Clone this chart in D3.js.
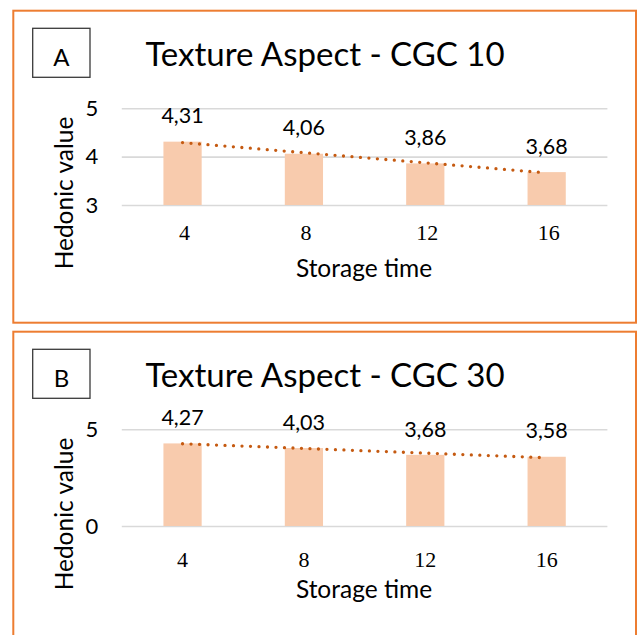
<!DOCTYPE html>
<html>
<head>
<meta charset="utf-8">
<script src="https://cdn.jsdelivr.net/npm/d3@7"></script>
<style>
  html, body { margin: 0; padding: 0; background: #ffffff; }
  svg { display: block; }
</style>
</head>
<body>
<svg id="chart" width="642" height="635"></svg>
<script>
// Storage time categories (x axis)
const categories = ["4", "8", "12", "16"];

// Hedonic texture scores per storage time
const valuesCGC10 = [4.31, 4.06, 3.86, 3.68];
const valuesCGC30 = [4.27, 4.03, 3.68, 3.58];

// y axis ticks and domains for each panel
const ticksCGC10 = [3, 4, 5];
const ticksCGC30 = [0, 5];
const domainCGC10 = [3, 5];
const domainCGC30 = [0, 5];

// Panel letters and titles
const panelLetters = ["A", "B"];
const panelTitles = ["Texture Aspect - CGC 10", "Texture Aspect - CGC 30"];

const xAxisTitle = "Storage time";
const yAxisTitle = "Hedonic value";

const panels = [
  { letter: panelLetters[0], title: panelTitles[0], values: valuesCGC10, ticks: ticksCGC10, domain: domainCGC10, offsetY: 0, frameH: 312, catDx: 2, catDy: 0 },
  { letter: panelLetters[1], title: panelTitles[1], values: valuesCGC30, ticks: ticksCGC30, domain: domainCGC30, offsetY: 321, frameH: 340, catDx: 0, catDy: 6 }
];

const sansFont = "Lato, 'Open Sans', sans-serif";
const serifFont = "'Liberation Serif', 'DejaVu Serif', serif";
const colors = {
  frame: "#ED7D31",
  bar: "#F8CBAD",
  trend: "#C55A11",
  grid: "#D9D9D9",
  text: "#000000",
  letterBox: "#3a3a3a"
};

const svg = d3.select("#chart");

// decimal comma, as in the data labels
const locale = d3.formatLocale({ decimal: ",", thousands: ".", grouping: [3], currency: ["", ""] });
const fmt = locale.format(".2f");

const plot = { left: 121.8, right: 607.4, top: 108.3, bottom: 205 };

const x = d3.scaleBand()
  .domain(categories)
  .range([plot.left, plot.right])
  .paddingInner(0.685)
  .paddingOuter(0.343);

panels.forEach(p => {
  const g = svg.append("g").attr("transform", `translate(0,${p.offsetY})`);

  // outer frame
  g.append("rect")
    .attr("x", 13.3).attr("y", 10.7)
    .attr("width", 636 - 13.3).attr("height", p.frameH)
    .attr("fill", "none")
    .attr("stroke", colors.frame)
    .attr("stroke-width", 2);

  // panel letter in a box
  g.append("rect")
    .attr("x", 32.7).attr("y", 28.3)
    .attr("width", 57.3).attr("height", 49)
    .attr("fill", "none")
    .attr("stroke", colors.letterBox)
    .attr("stroke-width", 1.3);
  g.append("text")
    .attr("x", 61.4).attr("y", 66)
    .attr("text-anchor", "middle")
    .attr("font-family", sansFont)
    .attr("font-size", 24)
    .attr("fill", colors.text)
    .text(p.letter);

  // title
  g.append("text")
    .attr("x", 325).attr("y", 66)
    .attr("text-anchor", "middle")
    .attr("font-family", sansFont)
    .attr("font-size", 33)
    .attr("fill", colors.text)
    .text(p.title);

  const y = d3.scaleLinear().domain(p.domain).range([plot.bottom, plot.top]);

  // gridlines + tick labels
  const yAxis = g.append("g")
    .attr("transform", `translate(${plot.left},0)`)
    .call(d3.axisLeft(y)
      .tickValues(p.ticks)
      .tickFormat(d3.format("d"))
      .tickSize(-(plot.right - plot.left))
      .tickPadding(23.5));
  yAxis.select(".domain").remove();
  yAxis.selectAll(".tick line")
    .attr("stroke", colors.grid)
    .attr("stroke-width", 1.6);
  yAxis.selectAll(".tick text")
    .attr("font-family", sansFont)
    .attr("font-size", 22)
    .attr("fill", colors.text);

  // bars
  g.append("g").selectAll("rect")
    .data(p.values)
    .join("rect")
    .attr("x", (d, i) => x(categories[i]))
    .attr("y", d => y(d))
    .attr("width", x.bandwidth())
    .attr("height", d => y(p.domain[0]) - y(d))
    .attr("fill", colors.bar);

  // linear trendline (least squares over category index)
  const n = p.values.length;
  const idx = d3.range(1, n + 1);
  const mx = d3.mean(idx), my = d3.mean(p.values);
  const slope = d3.sum(idx, (k, i) => (k - mx) * (p.values[i] - my)) / d3.sum(idx, k => (k - mx) ** 2);
  const intercept = my - slope * mx;
  const trendPts = [1, n].map(k => [x(categories[k - 1]) + x.bandwidth() / 2, y(intercept + slope * k)]);
  g.append("path")
    .attr("d", d3.line()(trendPts))
    .attr("fill", "none")
    .attr("stroke", colors.trend)
    .attr("stroke-width", 3.3)
    .attr("stroke-linecap", "round")
    .attr("stroke-dasharray", "0 8.5");

  // data labels
  g.append("g").selectAll("text")
    .data(p.values)
    .join("text")
    .attr("x", (d, i) => x(categories[i]) + x.bandwidth() / 2)
    .attr("y", d => y(d) - 18.3)
    .attr("text-anchor", "middle")
    .attr("font-family", sansFont)
    .attr("font-size", 21.5)
    .attr("fill", colors.text)
    .text(d => fmt(d));

  // category axis
  const xAxis = g.append("g")
    .attr("transform", `translate(${p.catDx},${240 + p.catDy})`)
    .call(d3.axisBottom(x).tickSize(0).tickPadding(0));
  xAxis.select(".domain").remove();
  xAxis.selectAll(".tick text")
    .attr("dy", 0)
    .attr("y", 0)
    .attr("font-family", serifFont)
    .attr("font-size", 22)
    .attr("fill", colors.text);

  // axis titles
  g.append("text")
    .attr("x", 364).attr("y", 277.3)
    .attr("text-anchor", "middle")
    .attr("font-family", sansFont)
    .attr("font-size", 24.5)
    .attr("fill", colors.text)
    .text(xAxisTitle);

  g.append("text")
    .attr("transform", "translate(72.5,193) rotate(-90)")
    .attr("text-anchor", "middle")
    .attr("font-family", sansFont)
    .attr("font-size", 24.5)
    .attr("fill", colors.text)
    .text(yAxisTitle);
});
</script>
</body>
</html>
